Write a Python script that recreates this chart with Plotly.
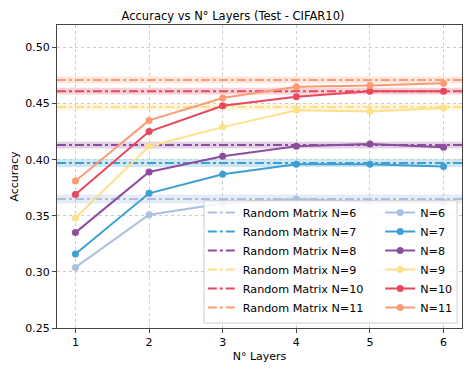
import plotly.graph_objects as go

# ---------------- data ----------------
layers = [1, 2, 3, 4, 5, 6]
n_values = [6, 7, 8, 9, 10, 11]

acc_n6  = [0.304, 0.351, 0.361, 0.365, 0.362, 0.362]
acc_n7  = [0.316, 0.370, 0.387, 0.396, 0.396, 0.394]
acc_n8  = [0.335, 0.389, 0.403, 0.412, 0.414, 0.411]
acc_n9  = [0.348, 0.412, 0.429, 0.444, 0.443, 0.446]
acc_n10 = [0.369, 0.425, 0.448, 0.456, 0.461, 0.461]
acc_n11 = [0.381, 0.435, 0.455, 0.465, 0.466, 0.468]

rand_mean = [0.365, 0.397, 0.413, 0.447, 0.461, 0.471]
rand_std  = [0.004, 0.0035, 0.003, 0.003, 0.003, 0.003]

colors = ["#a9c0e2", "#3d9fd3", "#8e4c9e", "#fee08b", "#e8475c", "#fc9a74"]
band_colors = ["rgba(169,192,226,0.3)", "rgba(61,159,211,0.25)", "rgba(142,76,158,0.25)",
               "rgba(254,224,139,0.3)", "rgba(232,71,92,0.25)", "rgba(252,154,116,0.25)"]

series = [acc_n6, acc_n7, acc_n8, acc_n9, acc_n10, acc_n11]

FONT = "DejaVu Sans"

fig = go.Figure()

# shaded std bands around random-matrix baselines
for m, s, bc in zip(rand_mean, rand_std, band_colors):
    fig.add_hrect(y0=m - s, y1=m + s, fillcolor=bc, line_width=0, layer="below")

for n, m, col in zip(n_values, rand_mean, colors):
    fig.add_trace(go.Scatter(
        x=[0.75, 6.25], y=[m, m], mode="lines",
        line=dict(color=col, width=2, dash="dashdot"),
        name=f"Random Matrix N={n}", legend="legend"))

for n, col, acc in zip(n_values, colors, series):
    fig.add_trace(go.Scatter(
        x=layers, y=acc, mode="lines+markers",
        line=dict(color=col, width=2), marker=dict(color=col, size=7),
        name=f"N={n}", legend="legend2"))

axis_common = dict(
    showline=True, linecolor="#444", linewidth=1.2, mirror=True,
    ticks="outside", ticklen=4, tickcolor="#444", automargin=False,
    showgrid=True, gridcolor="#cccccc", griddash="dot", gridwidth=1,
    zeroline=False, tickfont=dict(size=11, color="black", family=FONT),
)

fig.update_xaxes(range=[0.75, 6.25], tickvals=layers,
                 title=dict(text="N° Layers", font=dict(size=11, family=FONT), standoff=6),
                 **axis_common)
fig.update_yaxes(range=[0.25, 0.52], tickvals=[0.25, 0.30, 0.35, 0.40, 0.45, 0.50],
                 tickformat=".2f",
                 title=dict(text="Accuracy", font=dict(size=11, family=FONT), standoff=6),
                 **axis_common)

# legend frame (two legends side by side share one box)
fig.add_shape(type="rect", xref="paper", yref="paper",
              x0=0.363, x1=0.988, y0=0.0165, y1=0.42,
              fillcolor="rgba(255,255,255,0.85)", line=dict(color="#cccccc", width=1),
              layer="above")

leg_common = dict(orientation="v", yanchor="bottom", y=0.02, traceorder="normal",
                  font=dict(size=11.2, family=FONT), bgcolor="rgba(0,0,0,0)",
                  borderwidth=0, tracegroupgap=0)

# page body has an 8px margin, so the figure is sized/offset to compensate
fig.update_layout(
    width=463, height=355,
    margin=dict(l=49, r=9, t=17, b=35),
    plot_bgcolor="white", paper_bgcolor="white",
    font=dict(family=FONT, color="black"),
    title=dict(text="Accuracy vs N° Layers (Test - CIFAR10)", x=0.486, xanchor="center",
               y=0.977, yanchor="middle", font=dict(size=11.5, family=FONT)),
    legend=dict(x=0.360, xanchor="left", **leg_common),
    legend2=dict(x=0.798, xanchor="left", **leg_common),
    showlegend=True,
)

fig.write_html("out.html")
